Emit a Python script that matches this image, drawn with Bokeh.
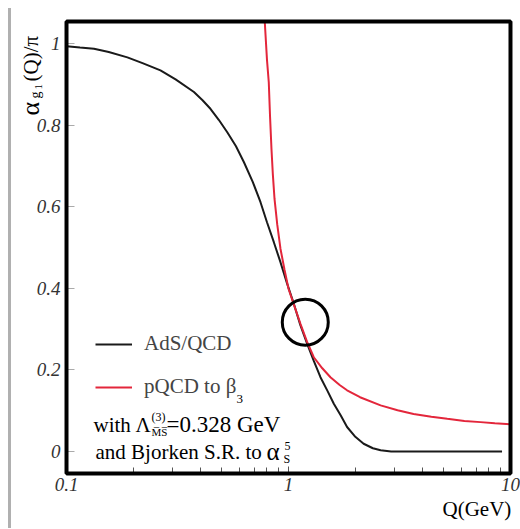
from math import pi
from bokeh.plotting import figure
from bokeh.models import (Range1d, FixedTicker, Label, Legend, LegendItem, Spacer,
                          BoxAnnotation)
from bokeh.layouts import row
from bokeh.embed import file_html
from bokeh.resources import INLINE

# ---- data ----
ads_q = [0.1, 0.115, 0.133, 0.155, 0.188, 0.22, 0.265, 0.31, 0.375, 0.41, 0.445, 0.485,
         0.529, 0.58, 0.63, 0.69, 0.748, 0.8, 0.859, 0.92, 0.985, 1.057, 1.13, 1.214,
         1.3, 1.393, 1.5, 1.6, 1.72, 1.836, 2.0, 2.18, 2.4, 2.6, 2.9, 9.16]
ads_v = [0.993, 0.990, 0.987, 0.979, 0.966, 0.952, 0.934, 0.912, 0.881, 0.861, 0.84, 0.813,
         0.783, 0.748, 0.709, 0.661, 0.611, 0.562, 0.513, 0.464, 0.412, 0.362, 0.31, 0.264,
         0.222, 0.182, 0.148, 0.117, 0.088, 0.06, 0.036, 0.019, 0.008, 0.003, 0.0, 0.0]

pqcd_q = [0.782, 0.8, 0.815, 0.826, 0.838, 0.85, 0.865, 0.89, 0.92, 0.96, 1.0,
          1.06, 1.132, 1.21, 1.3, 1.42, 1.545, 1.7, 1.836, 2.1, 2.6, 3.1, 3.66, 4.4,
          5.19, 6.2, 7.33, 8.5, 10.0]
pqcd_v = [1.052, 0.96, 0.905, 0.82, 0.742, 0.68, 0.619, 0.556, 0.497, 0.445, 0.399,
          0.358, 0.313, 0.27, 0.231, 0.204, 0.182, 0.163, 0.15, 0.133, 0.113, 0.101, 0.092,
          0.085, 0.08, 0.075, 0.072, 0.069, 0.067]

mark_q = [1.19]
mark_v = [0.317]

x_ticks = [0.1, 1, 10]
x_tick_labels = ["0.1", "1", "10"]
x_minor = [0.2, 0.3, 0.4, 0.5, 0.6, 0.7, 0.8, 0.9, 2, 3, 4, 5, 6, 7, 8, 9]
y_ticks = [0, 0.2, 0.4, 0.6, 0.8, 1.0]
y_tick_labels = ["0", "0.2", "0.4", "0.6", "0.8", "1"]

# axis box limits (data units) and the visible extent of the drawing area
X_LO, X_HI = 0.1, 10.0
Y_LO, Y_HI = -0.054, 1.054
VIEW_X = (0.05652, 11.094)
VIEW_Y = (-0.18873, 1.10539)

SERIF = "Liberation Serif"
W, H = 509, 528

p = figure(width=W, height=H, x_axis_type="log",
           x_range=Range1d(*VIEW_X), y_range=Range1d(*VIEW_Y),
           output_backend="svg", toolbar_location=None,
           min_border_left=0, min_border_right=0, min_border_top=0, min_border_bottom=0)
p.grid.visible = False
p.background_fill_color = "white"
p.border_fill_color = "white"
p.outline_line_color = None

# axes, fixed on the edges of the axis box
xa = p.xaxis[0]
xa.fixed_location = Y_LO
xa.ticker = FixedTicker(ticks=x_ticks, minor_ticks=x_minor)
xa.major_label_overrides = {t: l for t, l in zip(x_ticks, x_tick_labels)}
xa.axis_line_color = None
xa.major_tick_in = 7
xa.major_tick_out = 0
xa.minor_tick_in = 6
xa.minor_tick_out = 0
xa.major_tick_line_color = "#555555"
xa.minor_tick_line_color = "#555555"
xa.major_label_standoff = 4

ya = p.yaxis[0]
ya.fixed_location = X_LO
ya.ticker = FixedTicker(ticks=y_ticks)
ya.major_label_overrides = {t: l for t, l in zip(y_ticks, y_tick_labels)}
ya.axis_line_color = None
ya.major_tick_in = 8
ya.major_tick_out = 0
ya.minor_tick_line_color = None
ya.major_tick_line_color = "#aaaaaa"
ya.major_label_standoff = 6

for ax in (xa, ya):
    ax.major_label_text_font = SERIF
    ax.major_label_text_font_style = "italic"
    ax.major_label_text_font_size = "19px"
    ax.major_label_text_color = "#333333"

# curves
r_ads = p.line(ads_q, ads_v, line_color="#1a1a1a", line_width=2)
r_pqcd = p.line(pqcd_q, pqcd_v, line_color="#e3263b", line_width=2)
p.scatter(mark_q, mark_v, marker="circle", size=46, fill_color=None,
          line_color="black", line_width=3)

# axis box
p.add_layout(BoxAnnotation(left=X_LO, right=X_HI, bottom=Y_LO, top=Y_HI,
                           fill_alpha=0, line_color="black", line_alpha=1.0,
                           line_width=4))

# page position of the frame's left / bottom edge (frame fills the canvas)
FL, FB = 11, 528


def lab(text, X, Y, size, **kw):
    return Label(x=X - FL, y=FB - Y, x_units="screen", y_units="screen", text=text,
                 text_font=SERIF, text_font_size=f"{size}px",
                 text_baseline="alphabetic", text_color="black", **kw)


# legend
legend = Legend(items=[LegendItem(label="AdS/QCD", renderers=[r_ads]),
                       LegendItem(label="pQCD to β", renderers=[r_pqcd])],
                location=(95 - FL, FB - 399), padding=0, margin=0, spacing=18,
                glyph_width=37, glyph_height=24, label_height=24, label_standoff=12,
                label_text_font=SERIF, label_text_font_size="21px",
                border_line_color=None, background_fill_alpha=0)
p.add_layout(legend)

texts = [
    lab("3", 236, 398, 13),
    lab("with", 93, 424, 21),
    lab("Λ", 135, 424, 21),
    lab("(3)", 151, 416, 12),
    lab("M\u0305S\u0305", 151, 431, 11),
    lab("=0.328 GeV", 166, 424, 23),
    lab("and Bjorken S.R. to", 95, 451, 21),
    lab("α", 266, 451, 25),
    lab("5", 284, 445, 12),
    lab("S", 283, 458, 12),
    lab("Q(GeV)", 442, 508, 21),
    lab("α", 30, 115, 26, angle=pi / 2),
    lab("g", 35, 98, 14, angle=pi / 2),
    lab("1", 38, 89, 11, angle=pi / 2),
    lab("(Q)/π", 30, 81, 21, angle=pi / 2),
]
for t in texts:
    p.add_layout(t)

lead = Spacer(width=8, height=H)
edge = Spacer(width=3, height=H,
              styles={"background": "linear-gradient(to bottom, white 8px, #b0b0b0 8px)"})
layout = row(lead, edge, p)

open("out.html", "w").write(file_html(layout, INLINE))
